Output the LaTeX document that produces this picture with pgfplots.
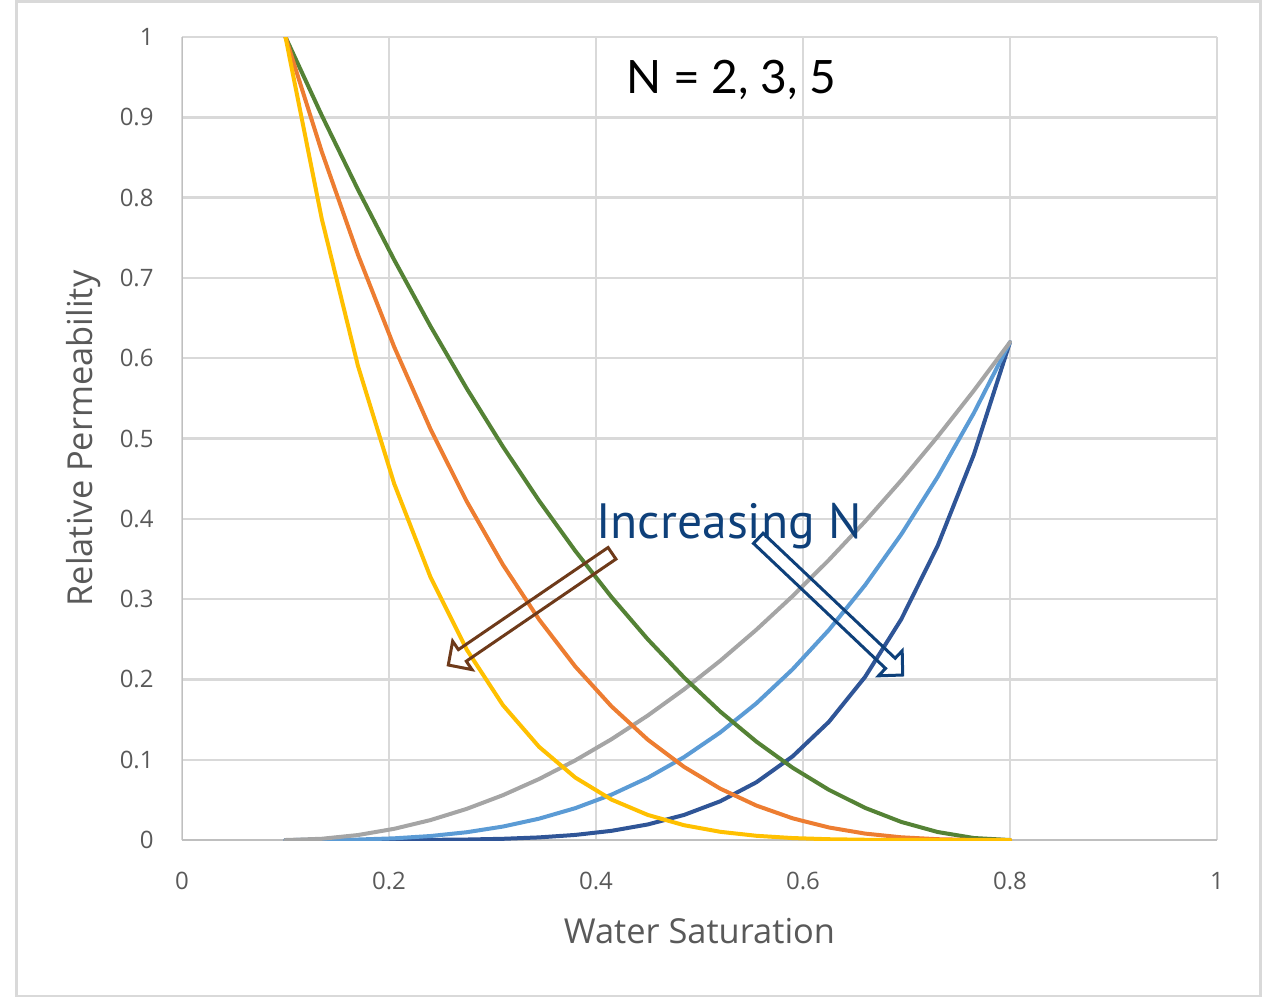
\documentclass[border=0pt]{standalone}
\usepackage{pgfplots}
\pgfplotsset{compat=1.18}
\usepackage{pgfplotstable}
\usepackage{fontspec}
\setmainfont{Open Sans}
\newfontfamily\latofont{Lato}
\newfontfamily\ptsansfont{PT Sans}
\usetikzlibrary{calc}

\definecolor{framegray}{HTML}{D9D9D9}
\definecolor{gridgray}{HTML}{D9D9D9}
\definecolor{axisgray}{HTML}{BFBFBF}
\definecolor{labelgray}{HTML}{595959}
\definecolor{krwtwo}{HTML}{A5A5A5}
\definecolor{krwthree}{HTML}{5B9BD5}
\definecolor{krwfive}{HTML}{2F5597}
\definecolor{krotwo}{HTML}{548235}
\definecolor{krothree}{HTML}{ED7D31}
\definecolor{krofive}{HTML}{FFC000}
\definecolor{noteblue}{HTML}{0E407A}
\definecolor{notebrown}{HTML}{6E3A1A}

% Corey curves, Swc = 0.1, Sor = 0.2, exponents N = 2, 3, 5
\pgfplotstableread{
sw     krw2     krw3      krw5      kro2    kro3      kro5
0.100  0        0         0         1       1         1
0.135  0.00155  0.0000775 0.0000002 0.9025  0.857375  0.773781
0.170  0.0062   0.00062   0.0000062 0.81    0.729     0.59049
0.205  0.01395  0.0020925 0.0000471 0.7225  0.614125  0.443705
0.240  0.0248   0.00496   0.0001984 0.64    0.512     0.32768
0.275  0.03875  0.0096875 0.0006055 0.5625  0.421875  0.237305
0.310  0.0558   0.01674   0.0015066 0.49    0.343     0.16807
0.345  0.07595  0.0265825 0.0032564 0.4225  0.274625  0.116029
0.380  0.0992   0.03968   0.0063488 0.36    0.216     0.07776
0.415  0.12555  0.0564975 0.0114407 0.3025  0.166375  0.050328
0.450  0.155    0.0775    0.019375  0.25    0.125     0.03125
0.485  0.18755  0.1031525 0.0312036 0.2025  0.091125  0.018453
0.520  0.2232   0.13392   0.0482112 0.16    0.064     0.01024
0.555  0.26195  0.1702675 0.071938  0.1225  0.042875  0.005252
0.590  0.3038   0.21266   0.1042034 0.09    0.027     0.00243
0.625  0.34875  0.2615625 0.1471289 0.0625  0.015625  0.000977
0.660  0.3968   0.31744   0.2031616 0.04    0.008     0.00032
0.695  0.44795  0.3807575 0.2750973 0.0225  0.003375  0.000076
0.730  0.5022   0.45198   0.3661038 0.01    0.001     0.00001
0.765  0.55955  0.5315725 0.4797442 0.0025  0.000125  0
0.800  0.62     0.62      0.62      0       0         0
}\relperm

\begin{document}
\begin{tikzpicture}
% chart area frame (1 unit = 0.5pt, y pointing down)
\begin{scope}[x=0.5pt,y=-0.5pt]
  \useasboundingbox (0,0) rectangle (1268,1002);
  \draw[framegray, line width=1.4pt] (16.7,1.3) rectangle (1260.3,996);
\end{scope}

\begin{axis}[
  scale only axis,
  width=517.5pt, height=401.5pt,
  at={(91pt,-420pt)}, anchor=south west,
  xmin=0, xmax=1, ymin=0, ymax=1,
  xtick={0,0.2,0.4,0.6,0.8,1},
  xticklabels={0,0.2,0.4,0.6,0.8,1},
  ytick={0,0.1,0.2,0.3,0.4,0.5,0.6,0.7,0.8,0.9,1},
  yticklabels={0,0.1,0.2,0.3,0.4,0.5,0.6,0.7,0.8,0.9,1},
  grid=major,
  major grid style={draw=gridgray, line width=1.2pt},
  axis line style={draw=none},
  major tick length=0pt,
  tick label style={font=\fontsize{12}{14}\selectfont, text=labelgray, inner sep=0pt},
  xticklabel style={yshift=-15.75pt},
  yticklabel style={xshift=-14pt},
  xlabel={Water Saturation},
  ylabel={Relative Permeability},
  label style={font=\fontsize{17.2}{20}\selectfont, text=labelgray, inner sep=0pt},
  xlabel style={at={(axis description cs:0.5,-0.1283)}, anchor=base},
  ylabel style={at={(axis description cs:-0.086,0.5)}, anchor=base},
  every axis plot/.append style={line width=2pt, line join=round, line cap=round, no markers},
]
  \draw[axisgray, line width=1.3pt] (axis cs:0,0) -- (axis cs:1,0);
  \draw[axisgray, line width=1.3pt] (axis cs:0,0) -- (axis cs:0,1);
  \addplot[krwfive]  table[x=sw, y=krw5] {\relperm};
  \addplot[krwthree] table[x=sw, y=krw3] {\relperm};
  \addplot[krwtwo]   table[x=sw, y=krw2] {\relperm};
  \addplot[krotwo]   table[x=sw, y=kro2] {\relperm};
  \addplot[krothree] table[x=sw, y=kro3] {\relperm};
  \addplot[krofive]  table[x=sw, y=kro5] {\relperm};
\end{axis}

% annotations
\begin{scope}[x=0.5pt,y=-0.5pt]
  \node[anchor=base west, inner sep=0pt, font=\latofont\fontsize{23}{28}\selectfont]
    at (626,93) {N = 2, 3, 5};
  \node[anchor=base west, inner sep=0pt, text=noteblue, font=\ptsansfont\fontsize{24.8}{29}\selectfont]
    at (596,538) {Increasing N};
  % hollow block arrows: tail centre T, tip P
  \foreach \tx/\ty/\px/\py/\col in {612/553.3/448.3/665/notebrown, 758.3/538.3/902.7/675/noteblue}{
    \coordinate (T) at (\tx,\ty);
    \coordinate (P) at (\px,\py);
    \coordinate (B) at ($(P)!8.5pt!(T)$);
    \draw[\col, line width=1.5pt, line join=miter]
      ($(T)!3.5pt!90:(P)$) -- ($(B)!3.5pt!90:(P)$) -- ($(B)!8.6pt!90:(P)$) -- (P)
      -- ($(B)!8.6pt!-90:(P)$) -- ($(B)!3.5pt!-90:(P)$) -- ($(T)!3.5pt!-90:(P)$) -- cycle;
  }
\end{scope}
\end{tikzpicture}
\end{document}
